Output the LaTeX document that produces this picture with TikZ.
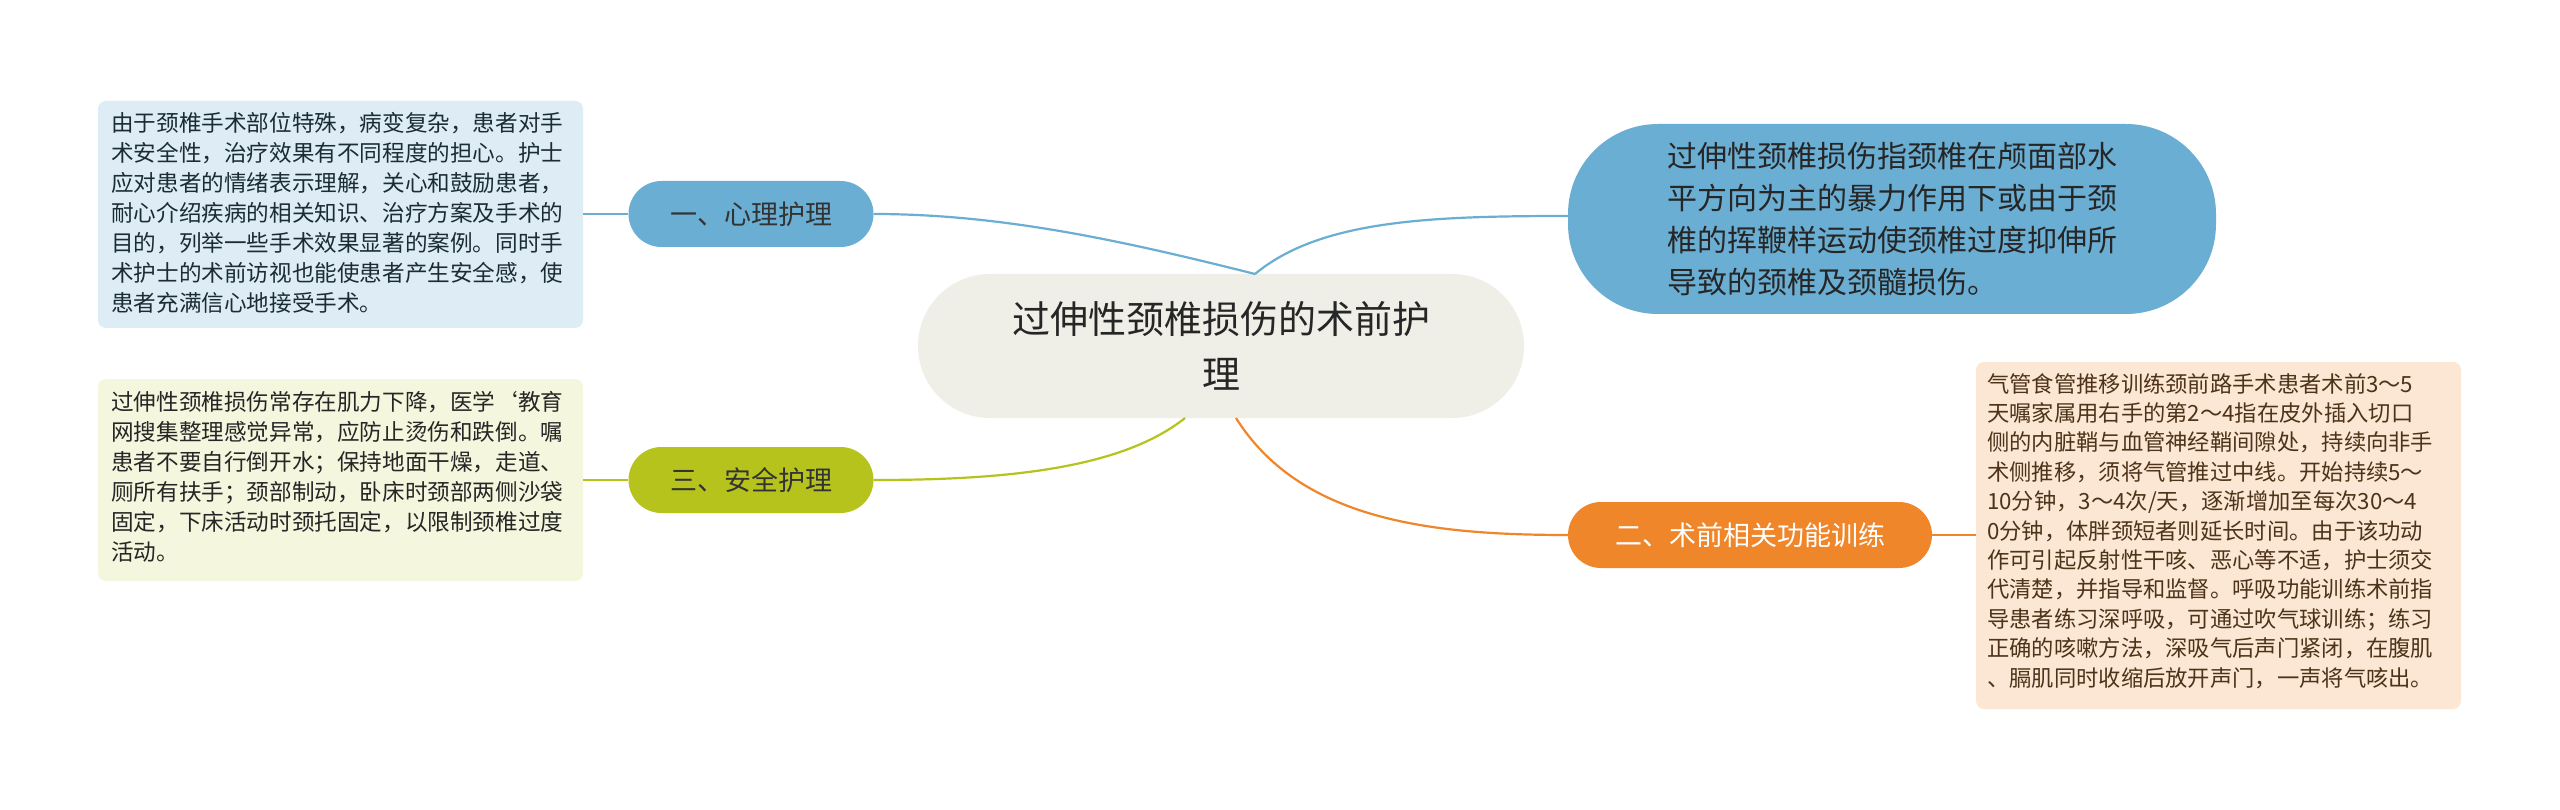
\documentclass[tikz,border=0pt]{standalone}
\usepackage{fontspec}
\setmainfont{Noto Sans CJK SC}
\begin{document}
\begin{tikzpicture}[x=1pt,y=-1pt,
  pill/.style={rounded corners=33pt,minimum height=66pt,inner sep=0pt,font=\fontsize{27}{32}\selectfont},
  note/.style={rounded corners=8pt,anchor=north west,align=left,inner sep=0pt,text width=#1},
  conn/.style={line width=2.2pt}]
\definecolor{cblue}{HTML}{6AAED3}
\definecolor{cgreen}{HTML}{B6C31C}
\definecolor{corange}{HTML}{F0862A}
\definecolor{cbg}{HTML}{EFEFE7}
\useasboundingbox (0,0) rectangle (2560,810);
\fill[white] (0,0) rectangle (2560,810);
% boxes
\fill[cbg,rounded corners=72pt] (918,274) rectangle (1524,418);
\node[font=\fontsize{38}{55}\selectfont,align=center,text=black!85] (c) at (1221,346) {过伸性颈椎损伤的术前护\\理};
\coordinate (ct) at (1255,274); \coordinate (cbl) at (1185,418); \coordinate (cbr) at (1236,418);

\fill[cblue,rounded corners=90pt] (1568,124) rectangle (2216,314);
\node[font=\fontsize{30}{42}\selectfont,align=left,text=black!85] (tr) at (1892,219) {过伸性颈椎损伤指颈椎在颅面部水\\平方向为主的暴力作用下或由于颈\\椎的挥鞭样运动使颈椎过度抑伸所\\导致的颈椎及颈髓损伤。};
\coordinate (trl) at (1568,216);

\node[pill,fill=cblue,minimum width=245pt,text=black!80] (b1) at (751,214) {一、心理护理};
\node[pill,fill=cgreen,minimum width=245pt,text=black!80] (b3) at (751,480) {三、安全护理};
\node[pill,fill=corange,minimum width=364pt,text=white] (b2) at (1750,535) {二、术前相关功能训练};

\fill[cblue!22,rounded corners=8pt] (98,101) rectangle (583,328);
\node[note=460pt,font=\fontsize{22.6}{30}\selectfont,text=black!75!cblue] (t1) at (111,112) {由于颈椎手术部位特殊，病变复杂，患者对手\\术安全性，治疗效果有不同程度的担心。护士\\应对患者的情绪表示理解，关心和鼓励患者，\\耐心介绍疾病的相关知识、治疗方案及手术的\\目的，列举一些手术效果显著的案例。同时手\\术护士的术前访视也能使患者产生安全感，使\\患者充满信心地接受手术。};
\coordinate (t1r) at (583,214);

\fill[cgreen!15,rounded corners=8pt] (98,379) rectangle (583,581);
\node[note=460pt,font=\fontsize{22.6}{30}\selectfont,text=black!85] (t3) at (111,391) {过伸性颈椎损伤常存在肌力下降，医学`教育\\网搜集整理感觉异常，应防止烫伤和跌倒。嘱\\患者不要自行倒开水；保持地面干燥，走道、\\厕所有扶手；颈部制动，卧床时颈部两侧沙袋\\固定，下床活动时颈托固定，以限制颈椎过度\\活动。};
\coordinate (t3r) at (583,480);

\fill[corange!20,rounded corners=8pt] (1976,362) rectangle (2461,709);
\node[note=460pt,font=\fontsize{22.3}{29.4}\selectfont,text=black!60!brown] (t2) at (1987,373) {气管食管推移训练颈前路手术患者术前3～5\\天嘱家属用右手的第2～4指在皮外插入切口\\侧的内脏鞘与血管神经鞘间隙处，持续向非手\\术侧推移，须将气管推过中线。开始持续5～\\10分钟，3～4次/天，逐渐增加至每次30～4\\0分钟，体胖颈短者则延长时间。由于该功动\\作可引起反射性干咳、恶心等不适，护士须交\\代清楚，并指导和监督。呼吸功能训练术前指\\导患者练习深呼吸，可通过吹气球训练；练习\\正确的咳嗽方法，深吸气后声门紧闭，在腹肌\\、膈肌同时收缩后放开声门，一声将气咳出。};
\coordinate (t2l) at (1976,535);

% connectors
\draw[conn,cblue] (ct) .. controls (1120,240) and (1000,214) .. (b1.east);
\draw[conn,cblue] (ct) .. controls (1320,220) and (1430,216) .. (trl);
\draw[conn,cgreen] (cbl) .. controls (1120,470) and (1000,480) .. (b3.east);
\draw[conn,corange] (cbr) .. controls (1300,520) and (1430,535) .. (b2.west);
\draw[conn,cblue] (b1.west) -- (t1r);
\draw[conn,cgreen] (b3.west) -- (t3r);
\draw[conn,corange] (b2.east) -- (t2l);
\end{tikzpicture}
\end{document}
